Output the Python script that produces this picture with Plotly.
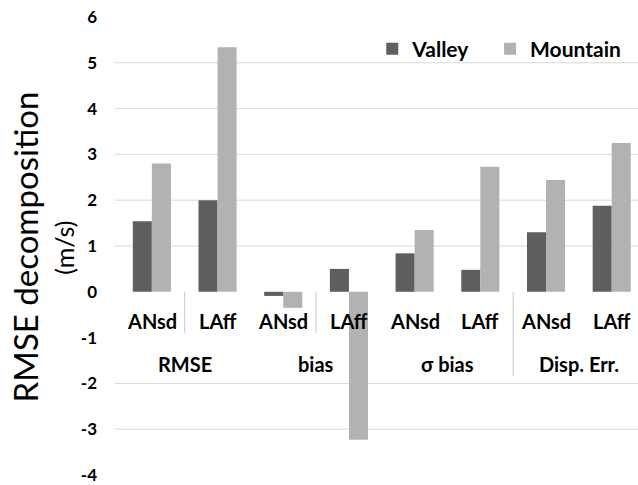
import plotly.graph_objects as go
import numpy as np

groups = ["RMSE", "bias", "σ bias", "Disp. Err."]
subs = ["ANsd", "LAff"]
valley = [1.54, 2.00, -0.09, 0.50, 0.84, 0.48, 1.30, 1.88]
mountain = [2.80, 5.34, -0.35, -3.23, 1.35, 2.73, 2.44, 3.25]
y_ticks = [-4, -3, -2, -1, 0, 1, 2, 3, 4, 5, 6]
y_tick_labels = ["-4", "-3", "-2", "-1", "0", "1", "2", "3", "4", "5", "6"]
grid_vals = [5, 4, 3, 2, 1, -2, -3]

cats = [(g, s) for g in groups for s in subs]
xpos = np.arange(len(cats))

DARK = "#5f5f5f"
LIGHT = "#b2b2b2"
FONT = "Lato"
LEGEND_FONT = dict(family=FONT, size=21, color="#000", weight="bold")

fig = go.Figure()
fig.add_trace(go.Bar(x=xpos, y=valley, name="Valley", marker_color=DARK, marker_line_width=0,
                     legend="legend", showlegend=True))
fig.add_trace(go.Bar(x=xpos, y=mountain, name="Mountain", marker_color=LIGHT, marker_line_width=0,
                     legend="legend2", showlegend=True))

shapes = []
for v in grid_vals:
    shapes.append(dict(type="line", xref="paper", yref="y", x0=-0.008, x1=1, y0=v, y1=v,
                       line=dict(color="#d9d9d9", width=1), layer="below"))
# category dividers
for xd, ln in [(0.5, 41), (2.5, 41), (5.5, 84)]:
    shapes.append(dict(type="line", xref="x", yref="y", ysizemode="pixel", yanchor=0,
                       x0=xd, x1=xd, y0=0, y1=-ln, line=dict(color="#c8c8c8", width=1)))

annotations = []
for i, (g, s) in enumerate(cats):
    annotations.append(dict(x=i, y=0, xref="x", yref="y", text=s, showarrow=False,
                            yshift=-29, yanchor="middle",
                            font=dict(family=FONT, size=20, color="#000", weight="bold")))
for gi, g in enumerate(groups):
    annotations.append(dict(x=gi * 2 + 0.5, y=0, xref="x", yref="y", text=g, showarrow=False,
                            yshift=-72, yanchor="middle",
                            font=dict(family=FONT, size=20, color="#000", weight="bold")))
annotations.append(dict(x=-0.181, y=0.497, xref="paper", yref="paper", text="RMSE decomposition",
                        textangle=-90, showarrow=False, xanchor="center", yanchor="middle",
                        font=dict(family=FONT, size=33, color="#000")))
annotations.append(dict(x=-0.106, y=0.496, xref="paper", yref="paper", text="(m/s)",
                        textangle=-90, showarrow=False, xanchor="center", yanchor="middle",
                        font=dict(family=FONT, size=25, color="#000")))

fig.update_layout(
    width=638, height=485,
    margin=dict(l=119, r=0, t=17, b=8),
    showlegend=True,
    paper_bgcolor="white", plot_bgcolor="white",
    barmode="group", bargap=0.42, bargroupgap=0,
    xaxis=dict(range=[-0.5, 7.4], showticklabels=False, showgrid=False, zeroline=False,
               showline=False, ticks=""),
    yaxis=dict(range=[-4, 6], tickvals=y_ticks, ticktext=y_tick_labels, showgrid=False,
               zeroline=False, showline=False, ticks="", ticklabelstandoff=21,
               ticklabeloverflow="allow",
               tickfont=dict(family=FONT, size=17, color="#000", weight="bold")),
    legend=dict(orientation="h", x=0.488, y=0.930, xanchor="left", yanchor="middle",
                font=LEGEND_FONT, bgcolor="rgba(0,0,0,0)"),
    legend2=dict(orientation="h", x=0.715, y=0.930, xanchor="left", yanchor="middle",
                 font=LEGEND_FONT, bgcolor="rgba(0,0,0,0)"),
    shapes=shapes, annotations=annotations,
)

fig.write_html("out.html", post_script="document.body.style.margin='0';",
               config={"displayModeBar": False})
